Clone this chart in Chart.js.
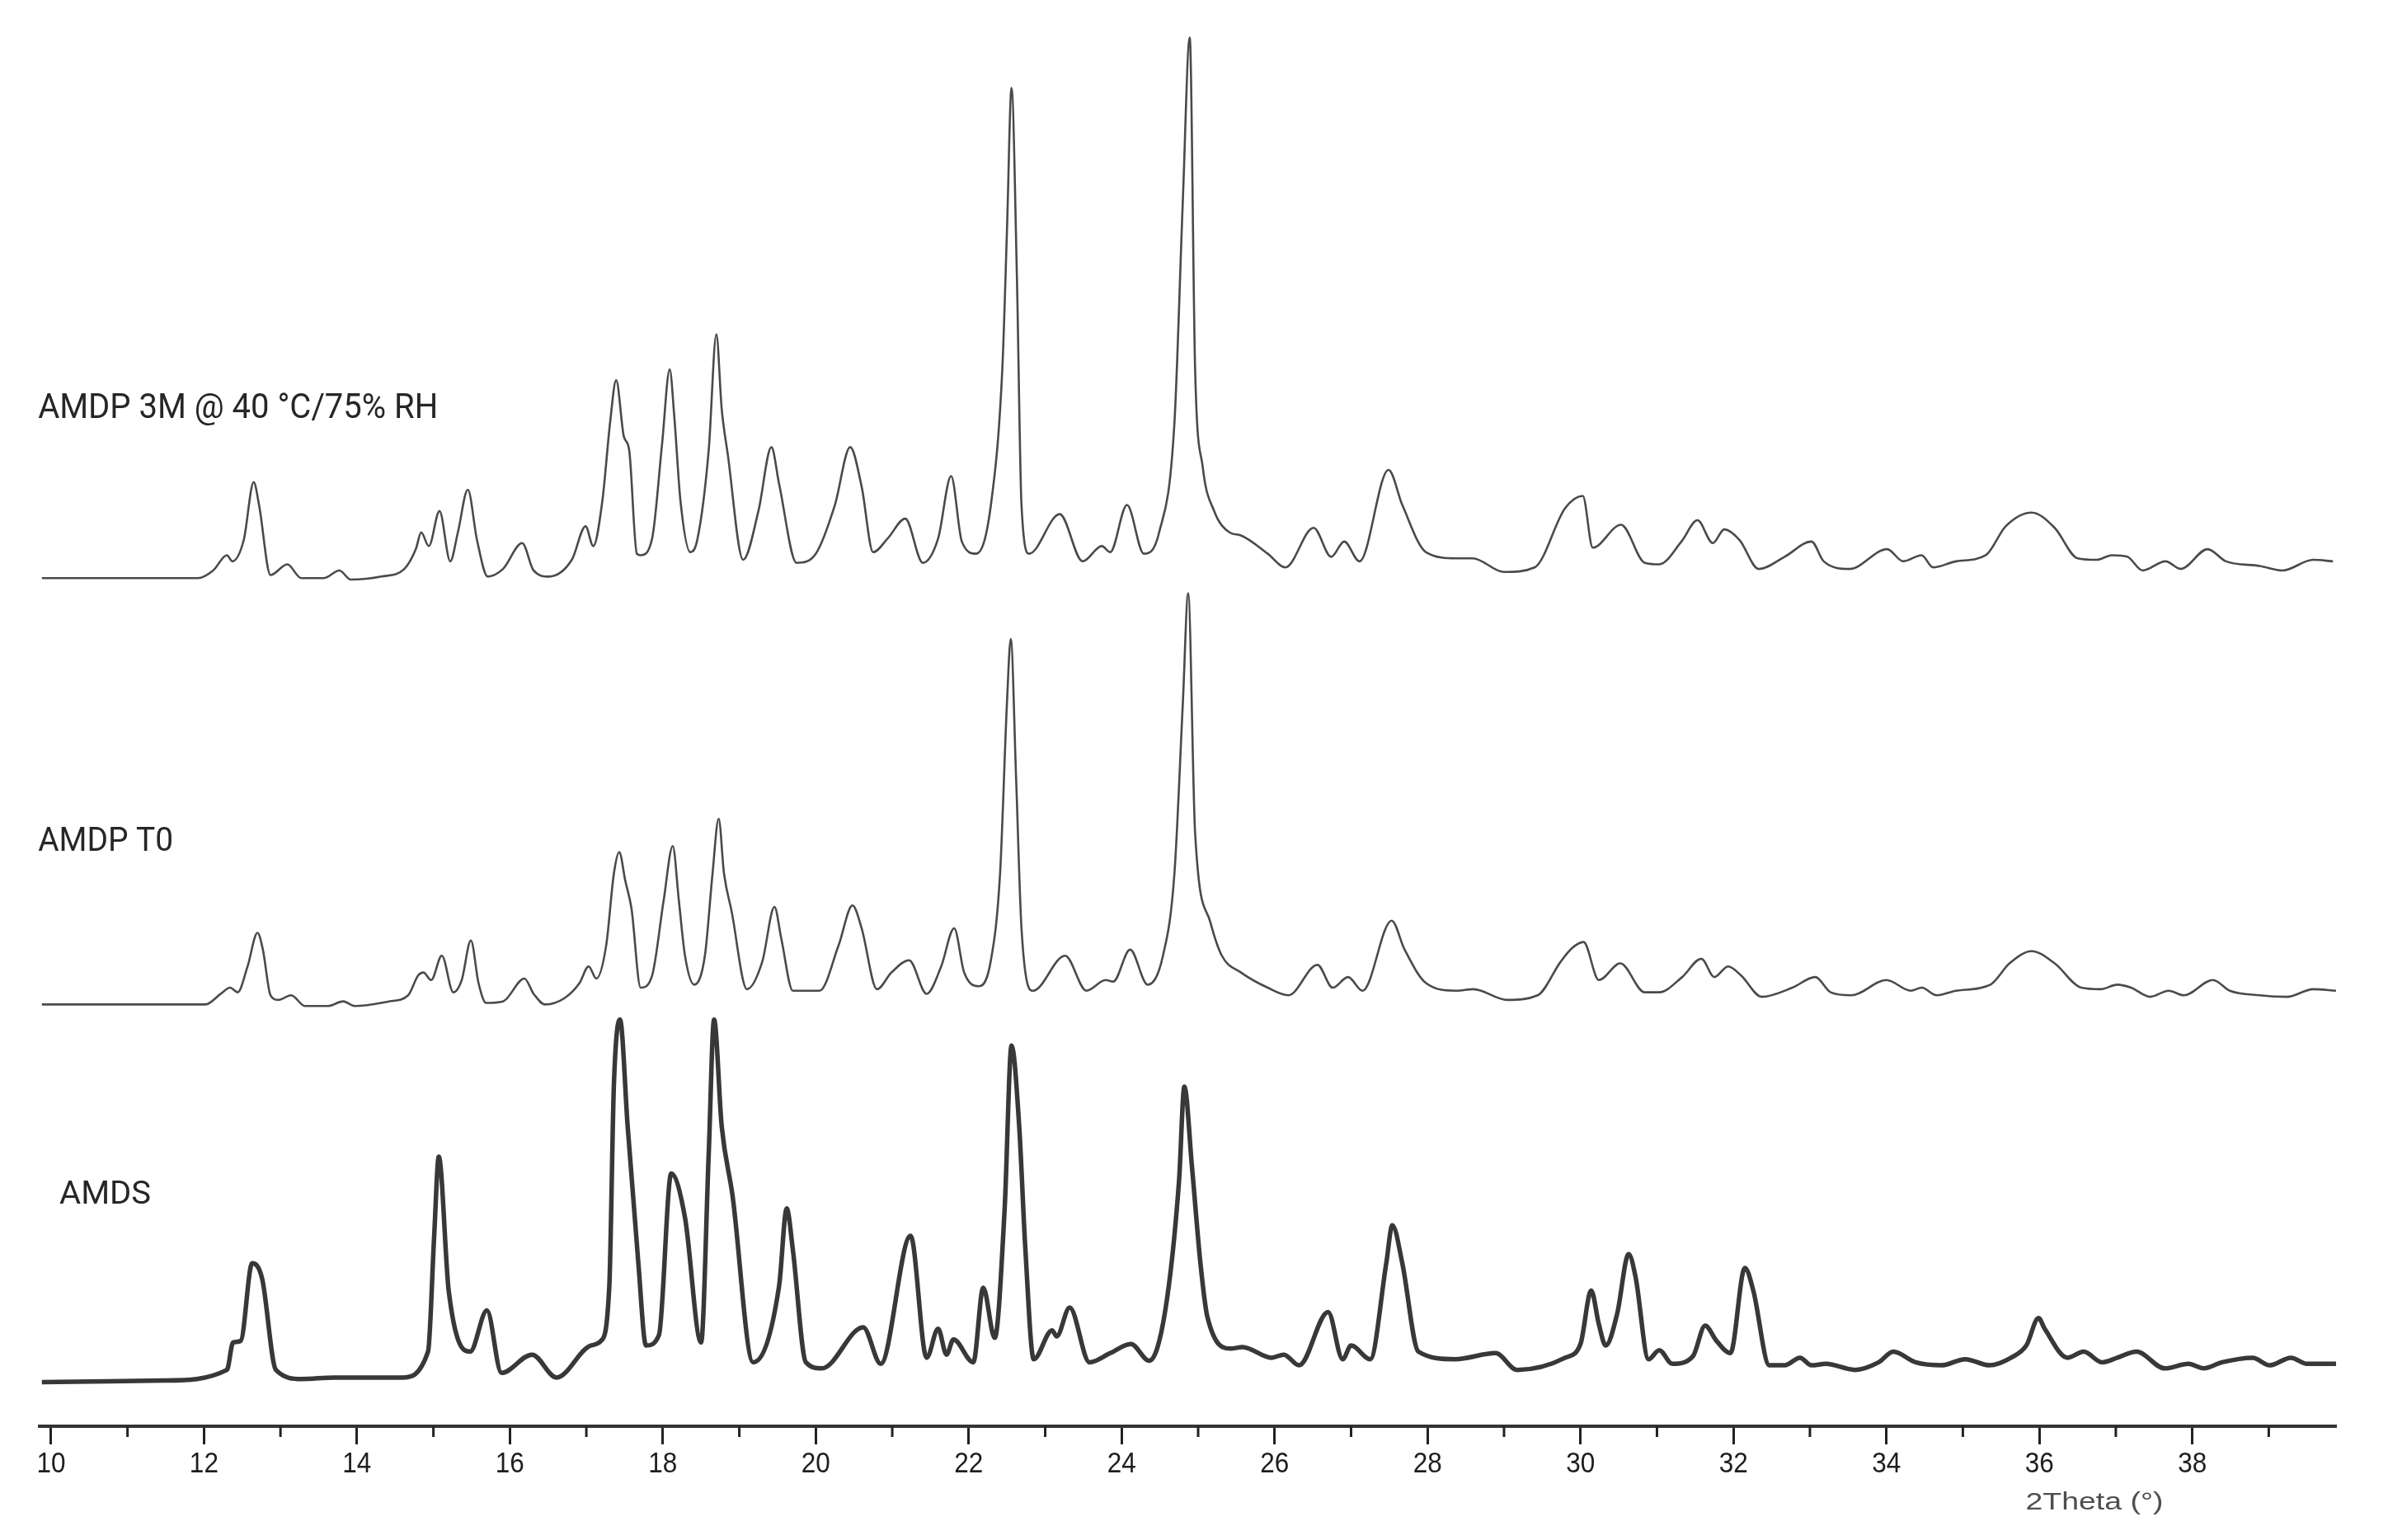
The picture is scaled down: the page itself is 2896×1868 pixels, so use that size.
<!DOCTYPE html>
<html><head><meta charset="utf-8">
<script src="https://cdn.jsdelivr.net/npm/chart.js@4.4.1/dist/chart.umd.min.js"></script>
<style>html,body{margin:0;padding:0;background:#fff;}canvas{display:block;}</style>
</head><body>
<canvas id="c" width="2896" height="1868"></canvas>
<script>
// ---- tick labels (2Theta, degrees) ----
const tickLabels = [10,12,14,16,18,20,22,24,26,28,30,32,34,36,38];
const minorTicks = [11,13,15,17,19,21,23,25,27,29,31,33,35,37,39];

// ---- AMDP 3M @ 40 °C/75% RH ----
const theta3M = [
 9.88,11.92,12.12,12.30,12.37,12.52,12.65,12.72,12.87,13.09,
 13.27,13.57,13.77,13.92,14.32,14.62,14.77,14.84,14.94,15.08,
 15.22,15.32,15.45,15.57,15.71,15.91,16.16,16.31,16.51,16.81,
 16.99,17.09,17.21,17.31,17.39,17.49,17.56,17.66,17.71,17.86,
 17.99,18.09,18.15,18.23,18.36,18.45,18.60,18.70,18.77,18.85,
 19.05,19.25,19.42,19.52,19.75,20.00,20.25,20.45,20.60,20.75,
 20.94,21.17,21.40,21.60,21.77,21.91,22.10,22.29,22.44,22.50,
 22.56,22.63,22.69,22.79,23.19,23.49,23.74,23.85,24.07,24.29,
 24.49,24.69,24.80,24.89,24.96,25.06,25.21,25.41,25.56,25.91,
 26.14,26.51,26.74,26.91,27.11,27.49,27.67,27.98,28.38,28.59,
 29.00,29.40,29.80,30.03,30.16,30.53,30.84,31.03,31.32,31.53,
 31.73,31.88,32.08,32.33,32.67,33.02,33.18,33.52,34.01,34.22,
 34.46,34.61,34.91,35.30,35.56,35.90,36.20,36.50,36.75,36.95,
 37.15,37.35,37.65,37.85,38.20,38.44,38.88,39.18,39.58,39.84];
const int3M = [
 2,2,7,17,13,27,65,50,4,11,
 2,2,7,1,3,8,21,32,23,46,
 13,32,60,27,3,8,25,7,3,14,
 36,23,53,104,132,95,86,18,17,28,
 90,139,108,53,19,27,86,162,113,83,
 14,46,88,64,12,18,50,88,62,19,
 28,41,12,28,69,26,18,50,140,230,
 324,200,50,18,44,13,23,19,50,18,
 32,104,250,357,140,75,46,32,30,18,
 9,35,16,26,13,73,50,19,15,15,
 6,9,48,56,22,37,12,11,26,40,
 25,34,27,8,16,26,13,8,21,13,
 17,9,13,17,36,45,35,15,14,17,
 16,7,13,8,21,13,10,7,14,13];

// ---- AMDP T0 ----
const thetaT0 = [
 9.88,12.02,12.22,12.34,12.44,12.57,12.70,12.77,12.87,12.97,
 13.14,13.32,13.62,13.82,13.97,14.42,14.67,14.80,14.87,14.97,
 15.11,15.26,15.37,15.49,15.59,15.69,15.91,16.19,16.31,16.46,
 16.71,16.91,17.03,17.13,17.26,17.36,17.43,17.51,17.59,17.71,
 17.86,18.01,18.13,18.21,18.29,18.41,18.55,18.65,18.73,18.80,
 18.90,19.10,19.30,19.46,19.55,19.70,20.05,20.30,20.48,20.60,
 20.80,20.99,21.22,21.45,21.64,21.81,21.94,22.14,22.29,22.41,
 22.50,22.55,22.62,22.69,22.84,23.26,23.54,23.79,23.89,24.11,
 24.34,24.54,24.69,24.80,24.87,24.96,25.16,25.31,25.56,25.91,
 26.18,26.56,26.76,26.96,27.15,27.53,27.70,27.98,28.38,28.60,
 29.04,29.44,29.74,29.89,30.04,30.24,30.52,30.84,31.03,31.33,
 31.58,31.75,31.93,32.10,32.37,32.77,33.07,33.27,33.54,34.00,
 34.32,34.46,34.66,34.91,35.36,35.61,35.90,36.20,36.55,36.80,
 37.02,37.20,37.45,37.69,37.89,38.27,38.49,38.88,39.24,39.58,
 39.88];
const intT0 = [
 2,2,9,13,10,27,49,38,8,5,
 8,1,1,4,1,4,8,21,23,18,
 34,10,18,44,16,3,4,19,9,2,
 6,16,27,19,41,88,102,83,65,13,
 21,70,106,70,34,15,34,88,124,88,
 63,12,30,66,45,11,11,41,67,52,
 12,23,31,9,27,52,23,14,31,88,
 200,242,150,52,11,34,11,18,17,38,
 15,34,88,200,272,115,56,34,23,13,
 8,28,13,20,11,57,38,16,11,12,
 5,8,30,39,43,18,29,10,10,20,
 32,20,27,21,7,13,20,10,8,18,
 11,13,8,11,15,29,37,29,13,12,
 15,13,7,11,8,18,11,8,7,12,
 11];

// ---- AMDS ----
const thetaAMDS = [
 9.88,11.49,12.30,12.38,12.48,12.63,12.76,12.94,13.28,13.70,
 14.59,14.93,15.01,15.07,15.20,15.48,15.70,15.89,16.29,16.61,
 17.06,17.19,17.30,17.36,17.44,17.54,17.68,17.78,17.95,18.11,
 18.29,18.50,18.60,18.67,18.77,18.91,19.18,19.52,19.62,19.70,
 19.87,20.08,20.62,20.85,21.24,21.45,21.60,21.71,21.80,22.06,
 22.19,22.34,22.47,22.56,22.66,22.74,22.85,23.09,23.15,23.32,
 23.58,23.85,24.12,24.36,24.57,24.75,24.82,24.92,25.03,25.12,
 25.43,25.58,25.96,26.12,26.32,26.70,26.89,27.00,27.25,27.46,
 27.54,27.67,27.88,28.36,28.89,29.17,29.80,30.00,30.14,30.24,
 30.33,30.48,30.63,30.72,30.89,31.03,31.20,31.47,31.63,31.78,
 31.96,32.15,32.26,32.47,32.67,32.87,33.02,33.21,33.59,33.90,
 34.09,34.38,34.72,35.03,35.35,35.63,35.83,35.99,36.07,36.37,
 36.58,36.82,37.02,37.27,37.64,37.95,38.15,38.39,38.79,39.01,
 39.29,39.50,39.88];
const intAMDS = [
 2,3,10,28,29,80,70,10,4,5,
 5,22,98,150,62,22,49,8,20,5,
 26,29,65,197,240,170,80,26,33,139,
 110,28,152,240,170,125,15,65,116,89,
 15,11,38,14,98,18,37,20,30,15,
 64,31,116,223,170,90,17,36,32,51,
 15,21,27,16,49,134,196,143,80,45,
 24,25,18,20,13,48,17,26,17,80,
 105,80,22,17,21,10,18,27,62,40,
 26,47,86,71,17,23,14,19,39,29,
 21,77,62,13,13,18,13,14,10,15,
 22,15,13,17,13,18,26,44,37,18,
 22,15,18,22,11,14,11,15,18,13,
 18,14,14];

// ---- series names, vertical stacking offsets, label anchors ----
const seriesNames   = ['AMDP 3M @ 40 °C/75% RH', 'AMDP T0', 'AMDS'];
const seriesOffsets = [555, 275, 27];
const labelTheta    = [9.83, 9.83, 10.11];
const labelLevel    = [107, 103, 119];

const X_MIN = 9.85, X_MAX = 39.88, Y_MAX = 925.8;

const pairs = [[theta3M,int3M],[thetaT0,intT0],[thetaAMDS,intAMDS]];
pairs.forEach((p,i)=>{ if(p[0].length!==p[1].length) throw new Error('length mismatch '+i+': '+p[0].length+' vs '+p[1].length); });

const styles = [
  {color:'#4a4a4a', width:2.6},
  {color:'#4a4a4a', width:2.6},
  {color:'#383838', width:5.5}
];
const datasets = pairs.map((p,i)=>({
  label: seriesNames[i],
  data: p[0].map((t,k)=>({x:t, y:p[1][k] + seriesOffsets[i]})),
  borderColor: styles[i].color,
  borderWidth: styles[i].width,
  pointRadius: 0,
  fill: false,
  cubicInterpolationMode: 'monotone',
  clip: false
}));

function fitText(ctx, text, x, y, font, targetW){
  ctx.font = font;
  const w = ctx.measureText(text).width;
  ctx.save();
  ctx.translate(x, y);
  ctx.scale(targetW / w, 1);
  ctx.fillText(text, 0, 0);
  ctx.restore();
}

const decor = {
  id: 'decor',
  afterDraw(chart){
    const ctx = chart.ctx, xs = chart.scales.x, ys = chart.scales.y;
    // minor ticks
    ctx.save();
    ctx.strokeStyle = '#222'; ctx.lineWidth = 3;
    minorTicks.forEach(m=>{
      const x = xs.getPixelForValue(m);
      ctx.beginPath(); ctx.moveTo(x, xs.top); ctx.lineTo(x, xs.top + 13); ctx.stroke();
    });
    ctx.restore();
    // tick labels (slightly condensed, like the reference)
    ctx.save();
    ctx.fillStyle = '#1e1e1e'; ctx.textBaseline = 'alphabetic';
    tickLabels.forEach(v=>{
      const x = xs.getPixelForValue(v);
      const txt = String(v);
      const font = '35px "Liberation Sans", Arial, sans-serif';
      ctx.font = font;
      const w = ctx.measureText(txt).width * 0.9;
      fitText(ctx, txt, x - w/2, xs.top + 56, font, w);
    });
    ctx.restore();
    // series labels
    const fonts = ['42px Roboto','41px Roboto','39px Roboto'];
    const widths = [485, 164, 111];
    ctx.save();
    ctx.fillStyle = '#262626'; ctx.textBaseline = 'alphabetic'; ctx.textAlign = 'left';
    seriesNames.forEach((n,i)=>{
      const x = xs.getPixelForValue(labelTheta[i]);
      const y = ys.getPixelForValue(seriesOffsets[i] + labelLevel[i]);
      fitText(ctx, n, x, y, fonts[i], widths[i]);
    });
    // axis title
    ctx.fillStyle = '#4e4e4e'; ctx.textBaseline = 'middle';
    const tx = xs.getPixelForValue(36.72);
    fitText(ctx, '2Theta (°)', tx - 167/2, xs.top + 93, '30px "Liberation Sans", Arial, sans-serif', 167);
    ctx.restore();
  }
};

new Chart(document.getElementById('c').getContext('2d'), {
  type: 'line',
  data: { datasets },
  options: {
    responsive: false, animation: false, devicePixelRatio: 1,
    layout: { padding: { left: 48, right: 63, top: 20, bottom: 0 } },
    plugins: { legend: { display: false }, tooltip: { enabled: false } },
    elements: { point: { radius: 0 } },
    scales: {
      x: {
        type: 'linear', min: X_MIN, max: X_MAX,
        afterBuildTicks: s => { s.ticks = tickLabels.map(v => ({ value: v })); },
        afterFit: s => { s.height = 138; },
        ticks: {
          autoSkip: false, maxRotation: 0, minRotation: 0, padding: 2,
          color: 'rgba(0,0,0,0)',
          font: { family: '"Liberation Sans", Arial, sans-serif', size: 32 },
          callback: v => String(v)
        },
        grid: { display: true, drawOnChartArea: false, drawTicks: true, tickLength: 22, tickWidth: 3, tickColor: '#222' },
        border: { display: true, width: 4, color: '#333' }
      },
      y: { display: false, min: 0, max: Y_MAX }
    }
  },
  plugins: [decor]
});
</script>
</body></html>
